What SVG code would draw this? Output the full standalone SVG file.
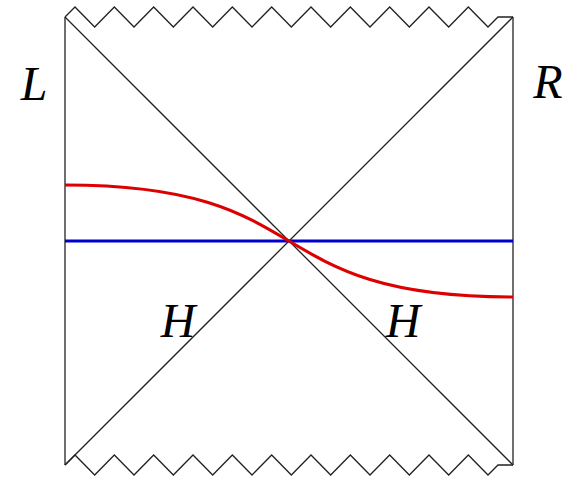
<svg xmlns="http://www.w3.org/2000/svg" width="576" height="477" viewBox="0 0 576 477">
<style>
.ln{fill:none;stroke:#222;stroke-width:1.3;stroke-linejoin:miter}
.lbl{font-family:"Liberation Serif","Times New Roman",serif;font-style:italic;font-size:48px;fill:#000;text-anchor:middle}
</style>
<defs>
<polyline id="zz" class="ln" points="65,17 75,7 94.67,27 114.33,7 134,27 153.67,7 173.33,27 193,7 212.67,27 232.33,7 252,27 271.67,7 291.33,27 311,7 330.67,27 350.33,7 370,27 389.67,7 409.33,27 429,7 448.67,27 468.33,7 488,27 498,17 513,17"/>
</defs>
<rect width="576" height="477" fill="#fff"/>
<g id="boundary">
<use href="#zz"/>
<use href="#zz" transform="translate(0,448)"/>
<line class="ln" x1="65" y1="17" x2="65" y2="465"/>
<line class="ln" x1="513" y1="17" x2="513" y2="465"/>
</g>
<g id="connectors">
<line class="ln" x1="65" y1="17" x2="513" y2="465"/>
<line class="ln" x1="65" y1="465" x2="513" y2="17"/>
<line x1="65" y1="241" x2="513" y2="241" stroke="#0000cc" stroke-width="3.2"/>
<path d="M65,185 C325,185 253,297 513,297" fill="none" stroke="#dd0000" stroke-width="3.2"/>
</g>
<g id="label-L"><text class="lbl" x="34" y="100">L</text></g>
<g id="label-R"><text class="lbl" x="548" y="98">R</text></g>
<g id="label-H1"><text class="lbl" x="178" y="337">H</text></g>
<g id="label-H2"><text class="lbl" x="403" y="337">H</text></g>
</svg>
